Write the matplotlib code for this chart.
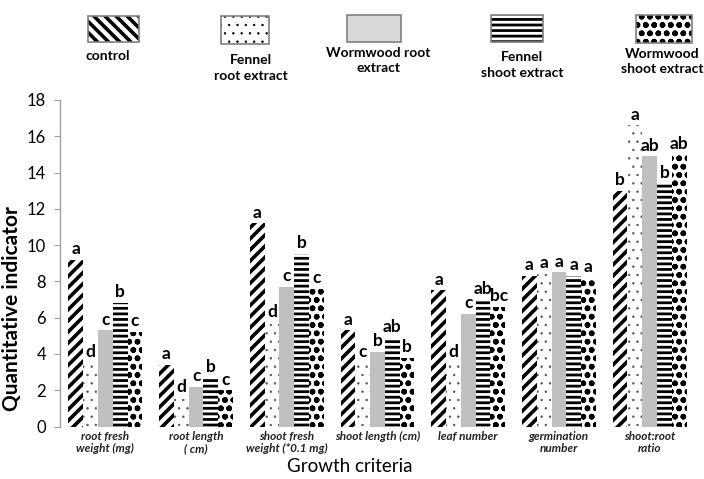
import matplotlib
matplotlib.use("Agg")
import matplotlib.pyplot as plt
from matplotlib.patches import Rectangle
import numpy as np

plt.rcParams['font.family'] = ['Lato', 'DejaVu Sans']

categories = ["root fresh\nweight (mg)", "root length\n( cm)", "shoot fresh\nweight (*0.1 mg)",
              "shoot length (cm)", "leaf number", "germination\nnumber", "shoot:root\nratio"]
series_names = ["control", "Fennel\nroot extract", "Wormwood root\nextract",
                "Fennel\nshoot extract", "Wormwood\nshoot extract"]

control        = [9.2, 3.4, 11.2, 5.3, 7.5, 8.3, 13.0]
fennel_root    = [3.5, 1.6, 5.7, 3.5, 3.5, 8.4, 16.6]
wormwood_root  = [5.3, 2.2, 7.7, 4.1, 6.2, 8.5, 14.9]
fennel_shoot   = [6.8, 2.7, 9.5, 4.9, 7.0, 8.3, 13.4]
wormwood_shoot = [5.2, 2.0, 7.6, 3.8, 6.6, 8.2, 15.0]

letters_control        = ["a", "a", "a", "a", "a", "a", "b"]
letters_fennel_root    = ["d", "d", "d", "c", "d", "a", "a"]
letters_wormwood_root  = ["c", "c", "c", "b", "c", "a", "ab"]
letters_fennel_shoot   = ["b", "b", "b", "ab", "ab", "a", "b"]
letters_wormwood_shoot = ["c", "c", "c", "b", "bc", "a", "ab"]

series = [control, fennel_root, wormwood_root, fennel_shoot, wormwood_shoot]
letters = [letters_control, letters_fennel_root, letters_wormwood_root,
           letters_fennel_shoot, letters_wormwood_shoot]

styles = [
    dict(facecolor="white", hatch="///", hlw=2.6, hcol="black"),
    dict(facecolor="white", hatch="..", hlw=0.5, hcol="#555555"),
    dict(facecolor="#c0c0c0", hatch=None, hlw=1.0, hcol="#c0c0c0"),
    dict(facecolor="white", hatch="---", hlw=2.0, hcol="black"),
    dict(facecolor="white", hatch="oo", hlw=1.7, hcol="black"),
]

W, H = 704, 479
fig = plt.figure(figsize=(W / 100, H / 100), dpi=100)
ax = fig.add_axes([60 / W, 52.5 / H, 635 / W, 326.5 / H])

x = np.arange(len(categories))
bw = 0.163
for i, (vals, st) in enumerate(zip(series, styles)):
    with plt.rc_context({'hatch.linewidth': st['hlw'], 'hatch.color': st['hcol']}):
        bars = ax.bar(x + (i - 2) * bw, vals, width=bw, color=st['facecolor'],
                      edgecolor=st['hcol'], linewidth=0, hatch=st['hatch'])
        for b in bars:
            try:
                b.set_hatch_linewidth(st['hlw'])
            except Exception:
                pass
    for j, (b, lab, v) in enumerate(zip(bars, letters[i], vals)):
        # two-letter label of the last series shifted right when its neighbour also has two letters
        crowded = (i == 4 and len(lab) == 2 and len(letters[3][j]) == 2)
        if crowded:
            xt, ha = b.get_x() - b.get_width() * 0.05, "left"
        else:
            xt, ha = b.get_x() + b.get_width() / 2, "center"
        ax.text(xt, v + 0.15, lab, ha=ha, va="bottom",
                fontsize=12.5, fontweight="bold", color="black")

ax.set_xlim(-0.5, 6.5)
ax.set_ylim(0, 18)
ax.set_yticks(np.arange(0, 19, 2))
ax.set_xticks(x)
ax.set_xticklabels(categories, fontsize=8.5, fontstyle="italic", fontweight="bold",
                   color="#222222", linespacing=1.15)
ax.tick_params(axis="x", length=0, pad=3)
ax.tick_params(axis="y", direction="out", length=4, color="#a0a0a0", labelsize=12, pad=6)
for s in ["top", "right", "bottom"]:
    ax.spines[s].set_visible(False)
ax.spines["left"].set_color("#a0a0a0")
ax.spines["left"].set_linewidth(1.0)

ax.set_ylabel("Quantitative indicator", fontsize=15, fontweight="bold")
ax.yaxis.set_label_coords((22 - 60) / 635, (H - 309 - 52.5) / 326.5)
ax.set_xlabel("Growth criteria", fontsize=13.5)
ax.xaxis.set_label_coords((350 - 60) / 635, -(467 - 426.5) / 326.5)
ax.xaxis.label.set_va("center")

# legend drawn manually at top
leg_boxes = [(88, 139, 15.7, 41.7), (221, 269, 15.7, 44), (347, 401, 15, 41.7),
             (491, 543, 15, 41.7), (636, 692, 15, 43)]
leg_text_pos = [(108, 55.7), (251, 68), (378, 60.5), (522, 65), (662, 61.5)]
leg_hatch = ["\\\\\\", "..", None, "---", "oo"]
for (x0, x1, y0, y1), st, hh, (tx, ty), name in zip(leg_boxes, styles, leg_hatch,
                                                    leg_text_pos, series_names):
    fx, fy = x0 / W, 1 - y1 / H
    fw, fh = (x1 - x0) / W, (y1 - y0) / H
    fc = "#d9d9d9" if st['hatch'] is None else "white"
    with plt.rc_context({'hatch.linewidth': st['hlw'], 'hatch.color': st['hcol']}):
        r = Rectangle((fx, fy), fw, fh, transform=fig.transFigure, facecolor=fc,
                      edgecolor="black", linewidth=0, hatch=hh)
        try:
            r.set_hatch_linewidth(st['hlw'])
        except Exception:
            pass
        fig.add_artist(r)
    fig.add_artist(Rectangle((fx, fy), fw, fh, transform=fig.transFigure, facecolor="none",
                             edgecolor="#808080", linewidth=1.2))
    fig.text(tx / W, 1 - ty / H, name, ha="center", va="center", fontsize=10,
             fontweight="bold", linespacing=1.35)

fig.savefig("out.png", dpi=100)
